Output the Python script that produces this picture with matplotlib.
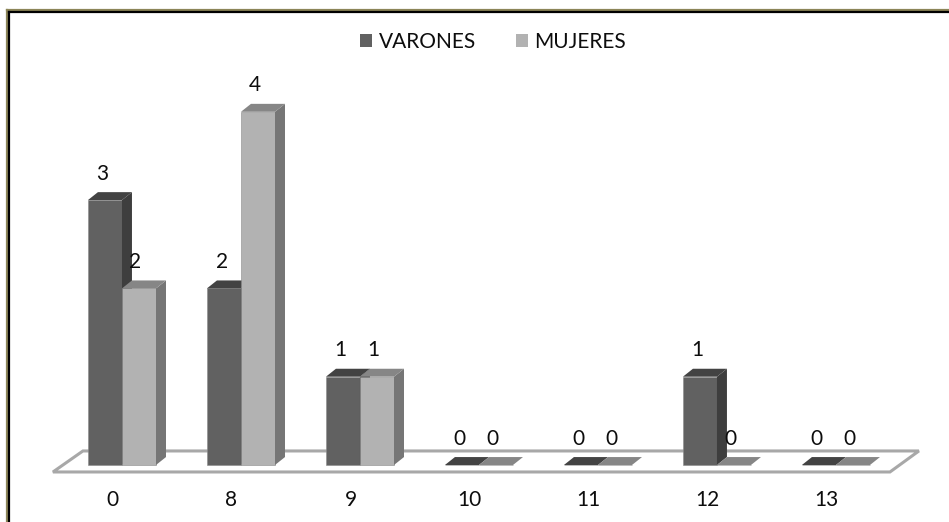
"""Bar chart with 3D-style boxes: VARONES vs MUJERES by category."""

import matplotlib

matplotlib.use("Agg")
import numpy as np
from matplotlib import pyplot as plt
from matplotlib.lines import Line2D
from matplotlib.patches import Patch, Polygon

categories = ["0", "8", "9", "10", "11", "12", "13"]
varones = [3, 2, 1, 0, 0, 1, 0]
mujeres = [2, 4, 1, 0, 0, 0, 0]

# front, side, top colours for each series
V_COLORS = ("#616161", "#3e3e3e", "#434343")
M_COLORS = ("#b2b2b2", "#767676", "#868686")

W = 0.286  # bar width in category units
DX, DY = 0.084, 0.09  # depth offset in data units
FS = 15


def _draw_box(ax, x_left, h, colors):
    front, side, top = colors
    ax.bar(x_left, h, width=W, align="edge", color=front, edgecolor="#8a8a8a",
           linewidth=0.4, zorder=3)
    xr = x_left + W
    side_pts = [(xr, 0), (xr + DX, DY), (xr + DX, h + DY), (xr, h)]
    top_pts = [(x_left, h), (xr, h), (xr + DX, h + DY), (x_left + DX, h + DY)]
    ax.add_patch(Polygon(side_pts, closed=True, facecolor=side, edgecolor="none", zorder=3))
    ax.add_patch(Polygon(top_pts, closed=True, facecolor=top, edgecolor="none", zorder=3))


def _main() -> None:
    plt.rcParams["font.family"] = ["Lato", "DejaVu Sans"]
    fig = plt.figure(figsize=(9.49, 5.22), dpi=100)
    ax = fig.add_axes([0, 0, 1, 1])
    ax.set_xlim(-1.025, 6.95)
    ax.set_ylim(-0.6455, 5.266)
    ax.axis("off")

    xs = np.arange(len(categories))

    # floor
    floor = [(-0.58, -0.079), (6.454, -0.079), (6.697, 0.159), (-0.328, 0.159)]
    ax.add_patch(Polygon(floor, closed=True, facecolor="white", edgecolor="#a8a8a8",
                         linewidth=2.2, zorder=1))

    for i, x in enumerate(xs):
        _draw_box(ax, x - W, varones[i], V_COLORS)
        _draw_box(ax, x, mujeres[i], M_COLORS)
        ax.text(x - W / 2 - 0.02, varones[i] + 0.3, str(varones[i]), ha="center",
                va="center", fontsize=FS, color="#0d0d0d", zorder=5)
        ax.text(x + W / 2 - 0.03, mujeres[i] + 0.3, str(mujeres[i]), ha="center",
                va="center", fontsize=FS, color="#0d0d0d", zorder=5)
        ax.text(x - 0.08, -0.40, categories[i], ha="center", va="center",
                fontsize=FS, color="#0d0d0d")

    handles = [Patch(facecolor=V_COLORS[0], label="VARONES"),
               Patch(facecolor=M_COLORS[0], label="MUJERES")]
    fig.legend(handles=handles, loc="center", bbox_to_anchor=(493 / 949, 1 - 42 / 522),
               ncol=2, frameon=False, fontsize=FS, handlelength=0.6,
               handleheight=0.6, handletextpad=0.3, columnspacing=1.9,
               labelcolor="#0d0d0d")

    # frame on top and left edges
    fig.add_artist(Line2D([7 / 949, 7 / 949], [0, 1 - 10 / 522], color="#8c8558",
                          linewidth=1.6, transform=fig.transFigure))
    fig.add_artist(Line2D([7 / 949, 1], [1 - 10 / 522, 1 - 10 / 522], color="#8c8558",
                          linewidth=1.6, transform=fig.transFigure))
    fig.add_artist(Line2D([9 / 949, 9 / 949], [0, 1 - 12 / 522], color="black",
                          linewidth=1.6, transform=fig.transFigure))
    fig.add_artist(Line2D([9 / 949, 1], [1 - 12 / 522, 1 - 12 / 522], color="black",
                          linewidth=1.6, transform=fig.transFigure))

    fig.savefig("out.png", dpi=100, facecolor="white")


if __name__ == "__main__":
    _main()
